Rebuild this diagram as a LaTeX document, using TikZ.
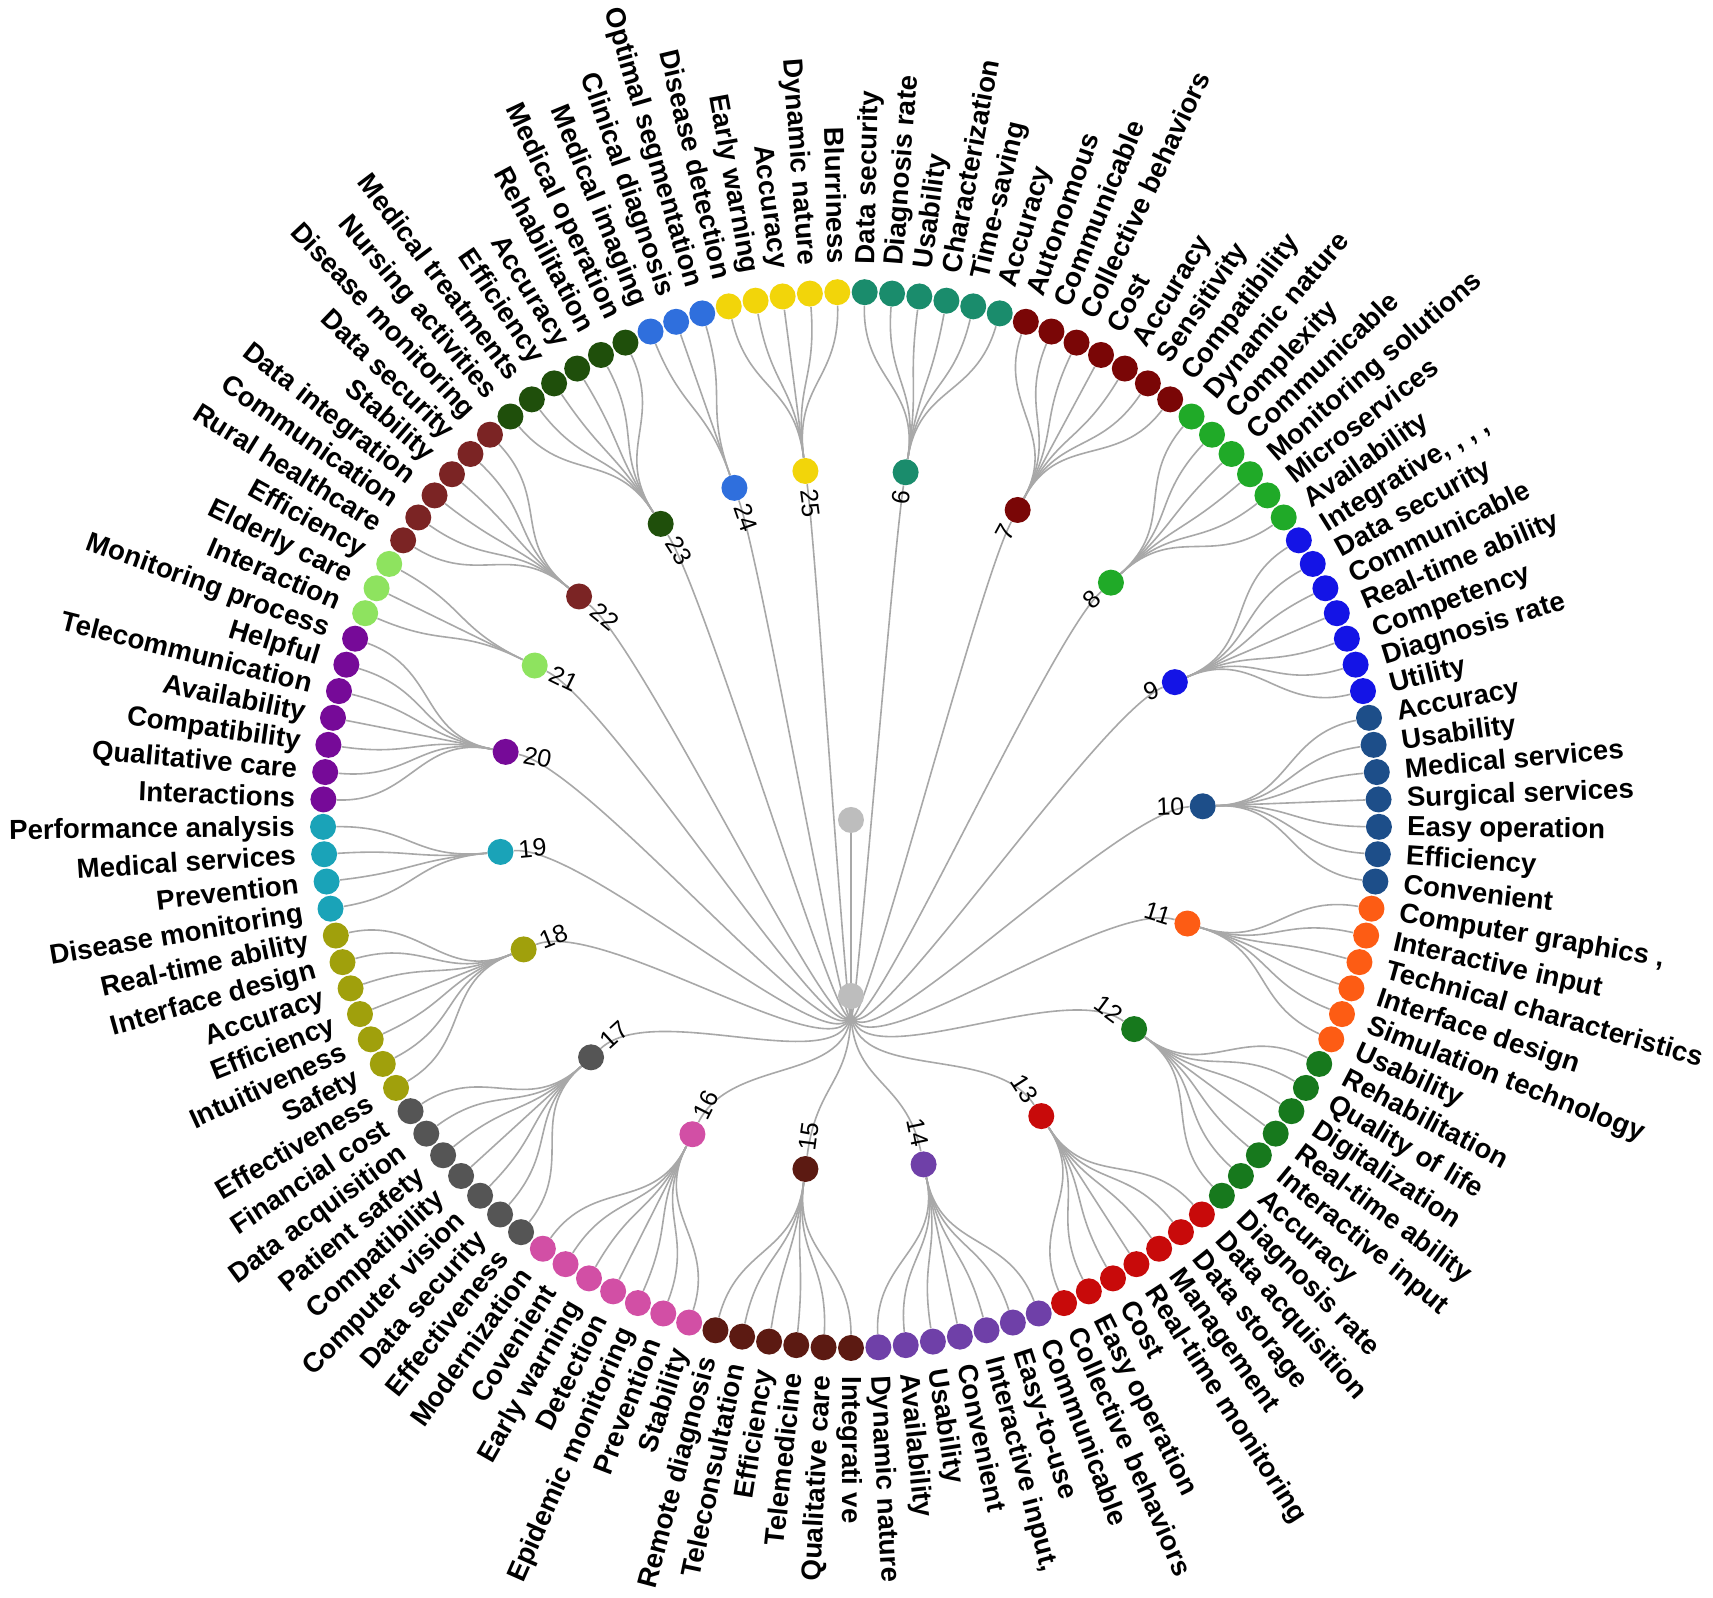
\documentclass[tikz,border=0pt]{standalone}
\usepackage{fontspec}
\setmainfont{Liberation Sans}
\usetikzlibrary{backgrounds,calc}

\definecolor{csix}{HTML}{1A8C6C}
\definecolor{cseven}{HTML}{7A0606}
\definecolor{ceight}{HTML}{20AA28}
\definecolor{cnine}{HTML}{1414E6}
\definecolor{cten}{HTML}{1D4E89}
\definecolor{celeven}{HTML}{FD5C14}
\definecolor{ctwelve}{HTML}{17791D}
\definecolor{cthirteen}{HTML}{C80A0A}
\definecolor{cfourteen}{HTML}{6F40A8}
\definecolor{cfifteen}{HTML}{5C1A12}
\definecolor{csixteen}{HTML}{D24FA5}
\definecolor{cseventeen}{HTML}{555555}
\definecolor{ceighteen}{HTML}{A0A00C}
\definecolor{cnineteen}{HTML}{1AA3B8}
\definecolor{ctwenty}{HTML}{760A98}
\definecolor{ctwentyone}{HTML}{8EE35F}
\definecolor{ctwentytwo}{HTML}{7B2424}
\definecolor{ctwentythree}{HTML}{1F4F0B}
\definecolor{ctwentyfour}{HTML}{2F6FDD}
\definecolor{ctwentyfive}{HTML}{F2D50A}
\definecolor{linkgray}{HTML}{A8A8A8}
\definecolor{rootgray}{HTML}{BDBDBD}

\tikzset{
  dot/.style={circle,inner sep=0pt,minimum size=13pt},
  link/.style={draw=linkgray,line width=0.8pt},
  leaftext/.style={inner sep=0pt,font=\fontsize{13.8pt}{16pt}\selectfont\bfseries},
  numtext/.style={inner sep=0pt,font=\fontsize{12.5pt}{14pt}\selectfont}
}

\newcommand{\stepang}{2.975207}

% one branch: number, colour, first leaf, last leaf, leaf texts
\newcommand{\branch}[5]{%
  \pgfmathsetmacro{\cphi}{((#3+#4)/2+0.5)*\stepang}%
  \pgfmathsetmacro{\ca}{90-\cphi}%
  \node[dot,fill=#2] (c#1) at (\ca:176pt) {};
  \ifdim\cphi pt<180pt
    \node[numtext,rotate=\ca,anchor=base east] (n#1) at ($(\ca:167pt)+(\ca-90:3.9pt)$) {#1};
  \else
    \node[numtext,rotate=\ca+180,anchor=base west] (n#1) at ($(\ca:167pt)+(\ca+90:3.9pt)$) {#1};
  \fi
  \begin{scope}[on background layer]
    \draw[link] (h) .. controls (-90:132pt) and (\ca:132pt) .. (c#1);
  \end{scope}
  \foreach \txt [count=\k from #3] in {#5} {
    \pgfmathsetmacro{\lphi}{(\k+0.5)*\stepang}
    \pgfmathsetmacro{\la}{90-\lphi}
    \node[dot,fill=#2] (l\k) at (\la:264pt) {};
    \ifdim\lphi pt<180pt
      \node[leaftext,rotate=\la,anchor=base west] (t\k) at ($(\la:278pt)+(\la-90:4.3pt)$) {\txt};
    \else
      \node[leaftext,rotate=\la+180,anchor=base east] (t\k) at ($(\la:278pt)+(\la+90:4.3pt)$) {\txt};
    \fi
    \begin{scope}[on background layer]
      \draw[link] (c#1) .. controls (\ca:220pt) and (\la:220pt) .. (l\k);
    \end{scope}
  }
}

\begin{document}
\begin{tikzpicture}
\begin{scope}[on background layer]
\path[use as bounding box,fill=white] (-425.5pt,-389pt) rectangle (431pt,410pt);
\end{scope}

\node[dot,fill=rootgray] (root) at (0,0) {};
\node[dot,fill=rootgray] (h) at (-90:88pt) {};
\begin{scope}[on background layer]
\draw[link] (root) -- (h);
\end{scope}

\branch{6}{csix}{0}{5}{Data security,Diagnosis rate,Usability,Characterization,Time-saving,Accuracy}
\branch{7}{cseven}{6}{12}{Autonomous,Communicable,Collective behaviors,Cost,Accuracy,Sensitivity,Compatibility}
\branch{8}{ceight}{13}{18}{Dynamic nature,Complexity,Communicable,Monitoring solutions,Microservices,Availability}
\branch{9}{cnine}{19}{25}{{Integrative, , , ,},Data security,Communicable,Real-time ability,Competency,Diagnosis rate,Utility}
\branch{10}{cten}{26}{32}{Accuracy,Usability,Medical services,Surgical services,Easy operation,Efficiency,Convenient}
\branch{11}{celeven}{33}{38}{{Computer graphics ,},Interactive input,Technical characteristics,Interface design,Simulation technology,Usability}
\branch{12}{ctwelve}{39}{45}{Rehabilitation,Quality of life,Digitalization,Real-time ability,Interactive input,Accuracy,Diagnosis rate}
\branch{13}{cthirteen}{46}{52}{Data acquisition,Data storage,Management,Real-time monitoring,Cost,Easy operation,Collective behaviors}
\branch{14}{cfourteen}{53}{59}{Communicable,Easy-to-use,{Interactive input,},Convenient,Usability,Availability,Dynamic nature}
\branch{15}{cfifteen}{60}{65}{Integrati ve,Qualitative care,Telemedicine,Efficiency,Teleconsultation,Remote diagnosis}
\branch{16}{csixteen}{66}{72}{Stability,Prevention,Epidemic monitoring,Detection,Early warning,Covenient,Modernization}
\branch{17}{cseventeen}{73}{79}{Effectiveness,Data security,Computer vision,Compatibility,Patient safety,Data acquisition,Financial cost}
\branch{18}{ceighteen}{80}{86}{Effectiveness,Safety,Intuitiveness,Efficiency,Accuracy,Interface design,Real-time ability}
\branch{19}{cnineteen}{87}{90}{Disease monitoring,Prevention,Medical services,Performance analysis}
\branch{20}{ctwenty}{91}{97}{Interactions,Qualitative care,Compatibility,Availability,Telecommunication,Helpful,Monitoring process}
\branch{21}{ctwentyone}{98}{100}{Interaction,Elderly care,Efficiency}
\branch{22}{ctwentytwo}{101}{106}{Rural healthcare,Communication,Data integration,Stability,Data security,Disease monitoring}
\branch{23}{ctwentythree}{107}{112}{Nursing activities,Medical treatments,Efficiency,Accuracy,Rehabilitation,Medical operation}
\branch{24}{ctwentyfour}{113}{115}{Medical imaging,Clinical diagnosis,Optimal segmentation}
\branch{25}{ctwentyfive}{116}{120}{Disease detection,Early warning,Accuracy,Dynamic nature,Blurriness}
\end{tikzpicture}
\end{document}
